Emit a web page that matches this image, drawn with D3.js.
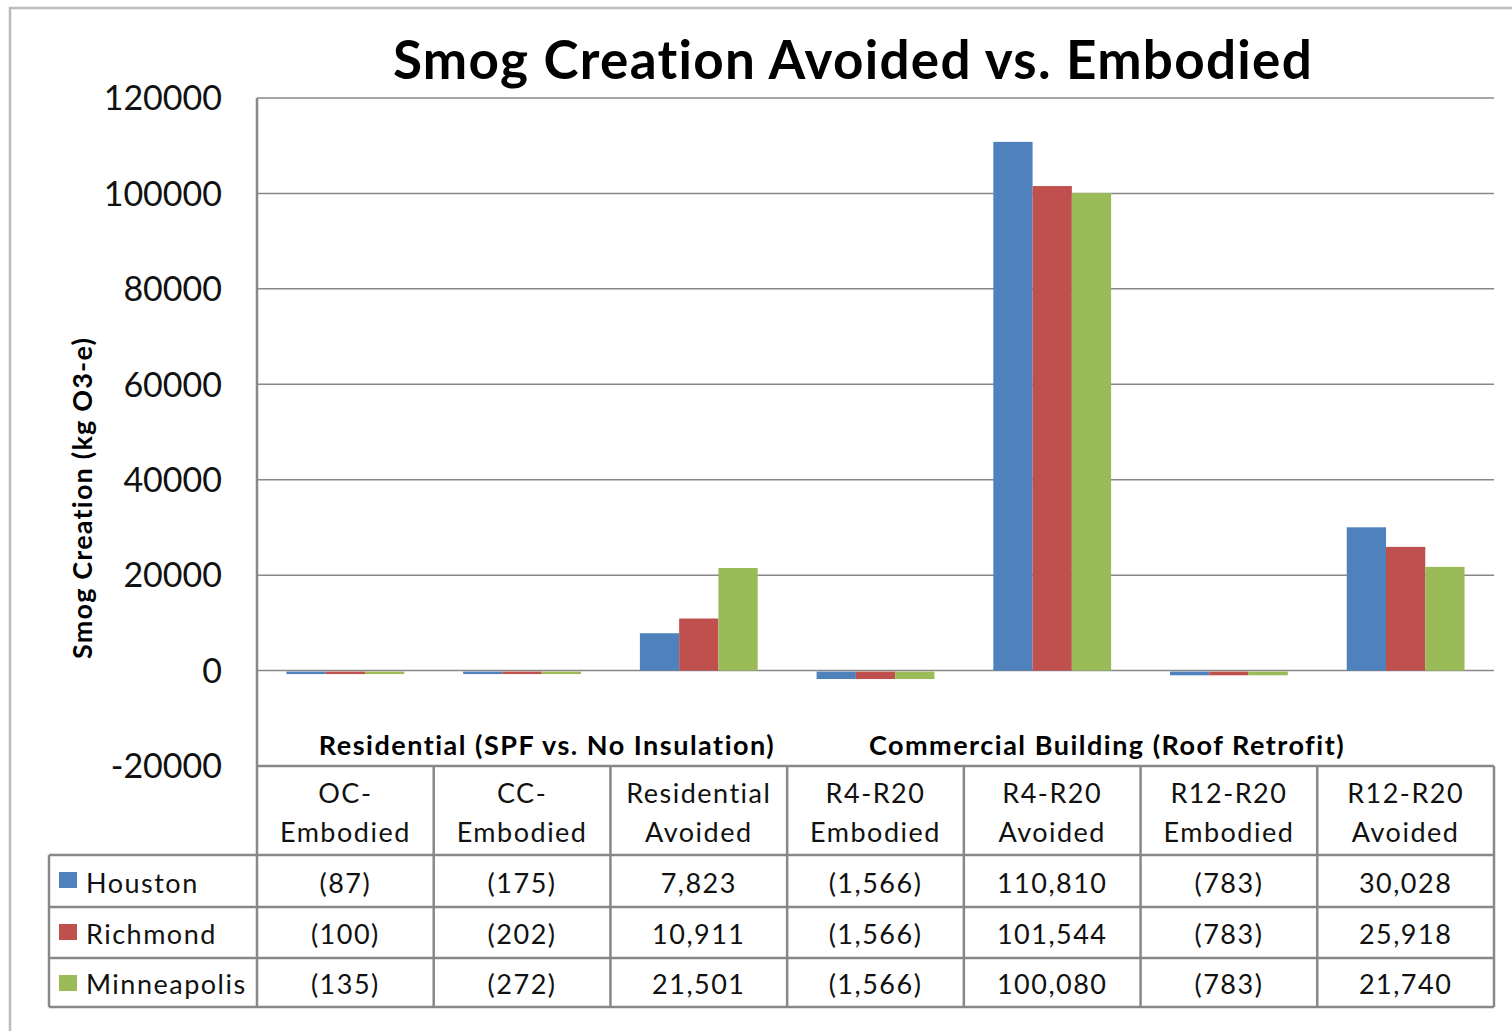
<!DOCTYPE html>
<html>
<head>
<meta charset="utf-8">
<script src="https://cdn.jsdelivr.net/npm/d3@7"></script>
<style>
  body { margin: 0; background: #fff; }
  svg { display: block; font-family: Lato, "Noto Sans", sans-serif; }
</style>
</head>
<body>
<svg id="chart" width="1512" height="1031"></svg>
<script>
// DATA
var categories = [
  ['OC-', 'Embodied'],
  ['CC-', 'Embodied'],
  ['Residential', 'Avoided'],
  ['R4-R20', 'Embodied'],
  ['R4-R20', 'Avoided'],
  ['R12-R20', 'Embodied'],
  ['R12-R20', 'Avoided']
];
var seriesNames = ['Houston', 'Richmond', 'Minneapolis'];
var houston     = [-87, -175, 7823, -1566, 110810, -783, 30028];
var richmond    = [-100, -202, 10911, -1566, 101544, -783, 25918];
var minneapolis = [-135, -272, 21501, -1566, 100080, -783, 21740];
var yTicks = [-20000, 0, 20000, 40000, 60000, 80000, 100000, 120000];
var groupLabels = [
  { text: 'Residential  (SPF vs. No Insulation)', x: 547 },
  { text: 'Commercial Building (Roof Retrofit)', x: 1107 }
];
var colors = ['#4F81BD', '#C0504D', '#9BBB59'];

var seriesValues = [houston, richmond, minneapolis];

// LAYOUT
var plot = { left: 257, right: 1494, top: 98, bottom: 766 };
var table = { legendLeft: 49, rows: [855, 907, 958, 1007] };
var gridColor = '#888';
var cellFont = '27px';
var cellSpacing = '1.5px';

var svg = d3.select('#chart');

// outer chart border
svg.append('rect')
  .attr('x', 10).attr('y', 8)
  .attr('width', 1540).attr('height', 1060)
  .attr('fill', 'none')
  .attr('stroke', '#bbb')
  .attr('stroke-width', 2.5);

var y = d3.scaleLinear()
  .domain([-20000, 120000])
  .range([plot.bottom, plot.top]);

var x0 = d3.scaleBand()
  .domain(d3.range(categories.length))
  .range([plot.left, plot.right]);

// Excel gap width 150% -> band of 3 bars + 1.5 gap
var groupWidth = x0.bandwidth() * 3 / 4.5;
var x1 = d3.scaleBand()
  .domain(d3.range(seriesNames.length))
  .range([0, groupWidth]);

// title
svg.append('text')
  .attr('x', 853).attr('y', 79)
  .attr('text-anchor', 'middle')
  .style('font-size', '53px')
  .style('letter-spacing', '1.3px')
  .style('font-weight', 'bold')
  .text('Smog Creation Avoided vs. Embodied');

// y axis label
svg.append('text')
  .attr('transform', 'translate(92,498) rotate(-90)')
  .attr('text-anchor', 'middle')
  .style('font-size', '27px')
  .style('letter-spacing', '1.2px')
  .style('font-weight', 'bold')
  .text('Smog Creation (kg O3-e)');

// gridlines
svg.append('g')
  .selectAll('line')
  .data(yTicks.filter(function (t) { return t > -20000; }))
  .enter()
  .append('line')
  .attr('x1', plot.left).attr('x2', plot.right)
  .attr('y1', function (d) { return y(d); })
  .attr('y2', function (d) { return y(d); })
  .attr('stroke', gridColor)
  .attr('stroke-width', 1.5);

// y tick labels
svg.append('g')
  .selectAll('text')
  .data(yTicks)
  .enter()
  .append('text')
  .attr('x', 222)
  .attr('y', function (d) { return y(d); })
  .attr('dy', '0.36em')
  .attr('text-anchor', 'end')
  .style('font-size', '34px')
  .style('fill', '#111')
  .text(function (d) { return d; });

// bars
var groups = svg.append('g')
  .selectAll('g')
  .data(categories.map(function (c, i) { return i; }))
  .enter()
  .append('g')
  .attr('transform', function (i) {
    return 'translate(' + (x0(i) + (x0.bandwidth() - groupWidth) / 2) + ',0)';
  });

groups.selectAll('rect')
  .data(function (i) {
    return seriesValues.map(function (vals, s) { return { s: s, v: vals[i] }; });
  })
  .enter()
  .append('rect')
  .attr('x', function (d) { return x1(d.s); })
  .attr('width', x1.bandwidth())
  .attr('y', function (d) { return d.v >= 0 ? y(d.v) : y(0) + 1; })
  .attr('height', function (d) {
    return Math.max(Math.abs(y(d.v) - y(0)), 2.5);
  })
  .attr('fill', function (d) { return colors[d.s]; });

// axis line
svg.append('line')
  .attr('x1', plot.left).attr('x2', plot.left)
  .attr('y1', plot.top).attr('y2', table.rows[3])
  .attr('stroke', gridColor).attr('stroke-width', 2.5);

// group labels
svg.append('g')
  .selectAll('text')
  .data(groupLabels)
  .enter()
  .append('text')
  .attr('x', function (d) { return d.x; })
  .attr('y', 755)
  .attr('text-anchor', 'middle')
  .style('font-size', '27px')
  .style('letter-spacing', '1.5px')
  .style('font-weight', 'bold')
  .text(function (d) { return d.text; });

// DATA TABLE
var tbl = svg.append('g');
var tableLine = function (x1p, y1p, x2p, y2p) {
  tbl.append('line')
    .attr('x1', x1p).attr('y1', y1p)
    .attr('x2', x2p).attr('y2', y2p)
    .attr('stroke', gridColor)
    .attr('stroke-width', 2.5);
};

tableLine(plot.left, plot.bottom, plot.right, plot.bottom);
table.rows.forEach(function (ry) {
  tableLine(table.legendLeft, ry, plot.right, ry);
});
tableLine(table.legendLeft, table.rows[0], table.legendLeft, table.rows[3]);
d3.range(categories.length).forEach(function (i) {
  tableLine(x0(i) + x0.bandwidth(), plot.bottom, x0(i) + x0.bandwidth(), table.rows[3]);
});

// header cells
categories.forEach(function (lines, i) {
  var t = tbl.append('text')
    .attr('text-anchor', 'middle')
    .style('font-size', cellFont)
    .style('letter-spacing', cellSpacing)
    .style('fill', '#111');
  lines.forEach(function (ln, k) {
    t.append('tspan')
      .attr('x', x0(i) + x0.bandwidth() / 2)
      .attr('y', 803 + k * 39)
      .text(ln);
  });
});

var fmt = d3.format(',');
var cellText = function (v) {
  return v < 0 ? '(' + fmt(-v) + ')' : fmt(v);
};

seriesNames.forEach(function (name, s) {
  var top = table.rows[s];
  var mid = (table.rows[s] + table.rows[s + 1]) / 2;
  tbl.append('rect')
    .attr('x', 59).attr('y', top + 17)
    .attr('width', 18).attr('height', 16)
    .attr('fill', colors[s]);
  tbl.append('text')
    .attr('x', 86).attr('y', mid + 2)
    .attr('dy', '0.36em')
    .style('font-size', cellFont)
    .style('letter-spacing', cellSpacing)
    .style('fill', '#111')
    .text(name);
  seriesValues[s].forEach(function (v, i) {
    tbl.append('text')
      .attr('x', x0(i) + x0.bandwidth() / 2)
      .attr('y', mid + 2)
      .attr('dy', '0.36em')
      .attr('text-anchor', 'middle')
      .style('font-size', cellFont)
      .style('letter-spacing', cellSpacing)
      .style('fill', '#111')
      .text(cellText(v));
  });
});
</script>
</body>
</html>
